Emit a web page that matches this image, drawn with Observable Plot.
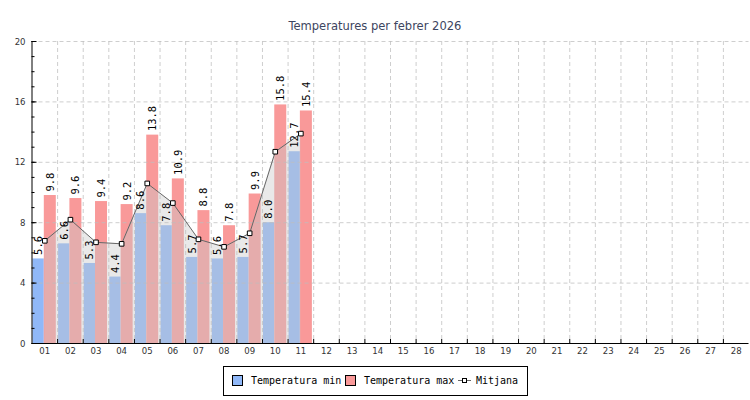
<!DOCTYPE html>
<html><head><meta charset="utf-8">
<script src="https://cdn.jsdelivr.net/npm/d3@7"></script>
<script src="https://cdn.jsdelivr.net/npm/@observablehq/plot@0.6"></script>
<style>
body{margin:0;background:#fff;}
#wrap{position:relative;width:750px;height:400px;overflow:hidden;background:#fff;}
#title{height:34px;box-sizing:border-box;padding-top:18px;line-height:15px;text-align:center;font-family:"DejaVu Sans Condensed","DejaVu Sans",sans-serif;font-size:12.8px;color:#3d4560;}
#chart svg{display:block;}
#legend{position:absolute;left:223px;top:366px;width:305px;height:30px;box-sizing:border-box;border:1px solid #000;background:#fff;font-family:"DejaVu Sans Mono",monospace;font-size:10px;color:#000;}
#legend .sw{position:absolute;top:8px;width:11px;height:11px;box-sizing:border-box;border:1px solid #000;}
#legend .lt{position:absolute;top:7px;line-height:13px;white-space:nowrap;}
#legend svg{position:absolute;left:234px;top:8px;}
</style></head><body>
<div id="wrap">
<div id="title">Temperatures per febrer 2026</div>
<div id="chart"></div>
<div id="legend"></div>
</div>
<script>
const days = ["01","02","03","04","05","06","07","08","09","10","11","12","13","14","15","16","17","18","19","20","21","22","23","24","25","26","27","28"];
const dataDays = ["01","02","03","04","05","06","07","08","09","10","11"];
const minT = [5.6, 6.6, 5.3, 4.4, 8.6, 7.8, 5.7, 5.6, 5.7, 8.0, 12.7];
const maxT = [9.8, 9.6, 9.4, 9.2, 13.8, 10.9, 8.8, 7.8, 9.9, 15.8, 15.4];
const meanT = [6.8, 8.2, 6.7, 6.6, 10.6, 9.3, 6.9, 6.4, 7.3, 12.7, 13.9];
const yMajor = [0, 4, 8, 12, 16, 20];
const yMinor = d3.range(0, 21);
const seriesNames = ["Temperatura min", "Temperatura max", "Mitjana"];

const rows = dataDays.map((d, i) => ({day: d, min: minT[i], max: maxT[i], mean: meanT[i]}));

const W = 750, H = 326, ML = 31.5, MR = 1.5, MT = 7, MB = 17;
const bw = (W - ML - MR) / days.length;
const blue = "#90b8f8", red = "#f99999";
const grid = {stroke: "#bdbdbd", strokeDasharray: "4,3", strokeWidth: 1, strokeOpacity: 0.75};

const plot = Plot.plot({
  width: W, height: H,
  marginLeft: ML, marginRight: MR, marginTop: MT, marginBottom: MB,
  style: {fontFamily: "'DejaVu Sans Condensed','DejaVu Sans',sans-serif", fontSize: "9.5px", color: "#333", background: "#fff"},
  x: {type: "band", domain: days, paddingInner: 0, paddingOuter: 0, round: false, axis: null, label: null},
  y: {domain: [0, 20], axis: null, label: null},
  marks: [
    Plot.barY(rows, {x: "day", y: "min", fill: blue, insetLeft: 1, insetRight: bw - 12.3}),
    Plot.barY(rows, {x: "day", y: "max", fill: red, insetLeft: 12.3, insetRight: bw - 24.3}),
    Plot.areaY(rows, {x: "day", y: "mean", fill: "#c8c8c8", fillOpacity: 0.4}),
    Plot.ruleY(yMajor.filter(d => d > 0), grid),
    Plot.ruleX(days.slice(1), {x: d => d, dx: -bw / 2, ...grid}),
    Plot.line(rows, {x: "day", y: "mean", stroke: "#666", strokeWidth: 1}),
    Plot.dot(rows, {x: "day", y: "mean", symbol: "square", r: 2.6, fill: "#fff", stroke: "#000", strokeWidth: 1}),
    Plot.text(rows, {x: "day", y: "min", text: d => d.min.toFixed(1), rotate: -90, textAnchor: "start", dx: -6.15, dy: -4, fontFamily: "'DejaVu Sans Mono',monospace", fontSize: 10.5, fill: "#000"}),
    Plot.text(rows, {x: "day", y: "max", text: d => d.max.toFixed(1), rotate: -90, textAnchor: "start", dx: 5.5, dy: -4, fontFamily: "'DejaVu Sans Mono',monospace", fontSize: 10.5, fill: "#000"}),
    Plot.axisY({ticks: yMajor, tickSize: 0, tickPadding: 6.5, fill: "#333", label: null}),
    Plot.axisY({ticks: yMinor, tickSize: 3, dx: 3, text: null, stroke: "#000", label: null}),
    Plot.axisY({ticks: yMajor, tickSize: 5, dx: 5, text: null, stroke: "#000", label: null}),
    Plot.axisX({ticks: days.slice(1), tickSize: 4, dy: -4, dx: -bw / 2, text: null, stroke: "#000", label: null}),
    Plot.axisX({ticks: days, tickSize: 0, tickPadding: 4, fill: "#333", label: null}),
    Plot.ruleY([0], {stroke: "#000", strokeWidth: 1}),
    Plot.ruleX(["01"], {x: d => d, dx: -bw / 2, stroke: "#000", strokeWidth: 1})
  ]
});
document.getElementById("chart").appendChild(plot);

const lg = document.getElementById("legend");
lg.innerHTML =
  `<span class="sw" style="left:8px;background:${blue}"></span><span class="lt" style="left:27px">${seriesNames[0]}</span>` +
  `<span class="sw" style="left:121px;background:${red}"></span><span class="lt" style="left:140px">${seriesNames[1]}</span>` +
  `<svg width="13" height="11"><line x1="0" x2="13" y1="5.5" y2="5.5" stroke="#666"/><rect x="4.5" y="3.5" width="4" height="4" fill="#fff" stroke="#000"/></svg>` +
  `<span class="lt" style="left:252px">${seriesNames[2]}</span>`;
</script>
</body></html>
